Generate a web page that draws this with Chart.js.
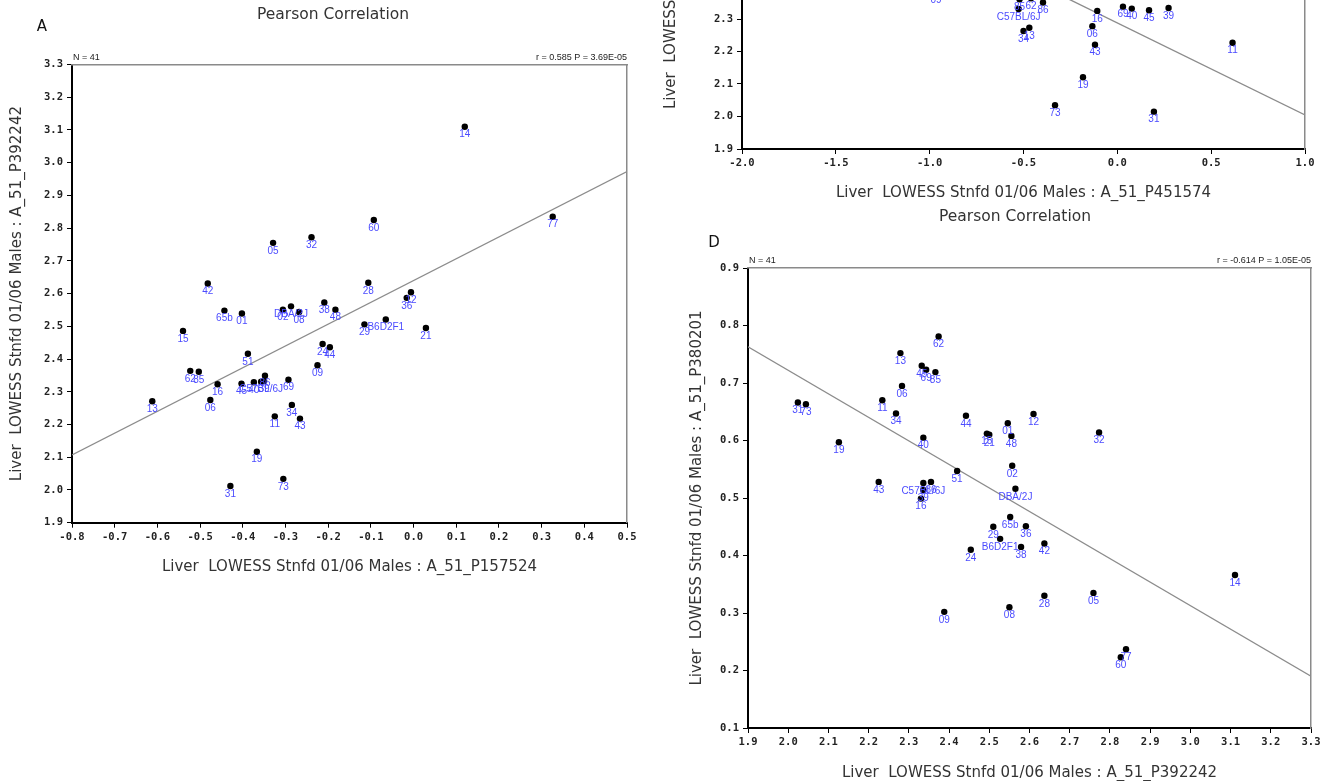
<!DOCTYPE html>
<html>
<head>
<meta charset="utf-8">
<script src="https://cdn.jsdelivr.net/npm/chart.js@4.4.1/dist/chart.umd.min.js"></script>
<style>
  html, body { margin: 0; padding: 0; background: #fff; }
  body { width: 1344px; height: 781px; overflow: hidden; position: relative; }
  canvas { position: absolute; }
</style>
</head>
<body>
<canvas id="panelA"></canvas>
<canvas id="panelC"></canvas>
<canvas id="panelD"></canvas>
<script>
// Panel A : P157524 (x) vs P392242 (y)
const aNames = ["13", "15", "62", "85", "42", "06", "16", "65b", "01", "45", "51", "40",
  "19", "C57BL/6J", "39", "86", "31", "05", "11", "02", "73", "DBA/2J", "69", "34", "08",
  "43", "32", "09", "24", "38", "44", "48", "29", "28", "60", "B6D2F1", "36", "12", "21", "14", "77"];
const aX = [-0.612, -0.540, -0.523, -0.503, -0.482, -0.476, -0.459, -0.443, -0.402, -0.403, -0.388, -0.374,
  -0.367, -0.357, -0.350, -0.348, -0.429, -0.329, -0.325, -0.306, -0.305, -0.287, -0.293, -0.285, -0.268,
  -0.266, -0.239, -0.225, -0.213, -0.209, -0.196, -0.183, -0.115, -0.106, -0.093, -0.065, -0.016, -0.006, 0.029, 0.120, 0.326];
const aY = [2.271, 2.486, 2.364, 2.361, 2.631, 2.275, 2.323, 2.548, 2.539, 2.325, 2.416, 2.329,
  2.117, 2.331, 2.333, 2.349, 2.012, 2.755, 2.225, 2.551, 2.034, 2.561, 2.337, 2.260, 2.544,
  2.218, 2.772, 2.381, 2.446, 2.573, 2.436, 2.551, 2.506, 2.633, 2.825, 2.521, 2.587, 2.604, 2.495, 3.110, 2.835];
const aFitX = [-0.8, 0.5];
const aFitY = [2.107, 2.973];

// Panel C (cropped, top right) : P451574 (x) vs P392242 (y)
const cNames = ["09", "85", "62", "86", "C57BL/6J", "34", "13", "16", "06", "43", "69", "40", "45", "39", "11", "19", "73", "31"];
const cX = [-0.966, -0.521, -0.460, -0.396, -0.526, -0.500, -0.469, -0.107, -0.133, -0.119, 0.030, 0.077, 0.169, 0.273, 0.614, -0.183, -0.332, 0.195];
const cY = [2.381, 2.361, 2.364, 2.351, 2.331, 2.263, 2.273, 2.325, 2.278, 2.221, 2.338, 2.332, 2.327, 2.334, 2.227, 2.121, 2.035, 2.015];
const cFitX = [-2.0, 1.0];
const cFitY = [2.854, 2.005];

// Panel D : P392242 (x) vs P380201 (y)
const dNames = ["62", "13", "45", "69", "85", "06", "11", "31", "73", "34", "44", "12", "01", "15", "21",
  "48", "40", "19", "02", "51", "43", "C57BL/6J", "86", "39", "16", "DBA/2J", "65b", "29", "36", "B6D2F1",
  "42", "38", "24", "09", "08", "28", "05", "77", "32", "14", "60"];
const dX = [2.374, 2.279, 2.332, 2.343, 2.366, 2.283, 2.234, 2.024, 2.044, 2.268, 2.442, 2.610, 2.546, 2.494, 2.500,
  2.555, 2.336, 2.126, 2.557, 2.420, 2.225, 2.336, 2.355, 2.336, 2.330, 2.565, 2.552, 2.510, 2.591, 2.527,
  2.637, 2.579, 2.454, 2.388, 2.550, 2.637, 2.759, 2.840, 2.773, 3.111, 2.827];
const dY = [0.781, 0.752, 0.730, 0.723, 0.719, 0.695, 0.670, 0.666, 0.663, 0.647, 0.643, 0.646, 0.630, 0.612, 0.610,
  0.608, 0.605, 0.597, 0.556, 0.547, 0.528, 0.526, 0.528, 0.514, 0.499, 0.516, 0.467, 0.450, 0.451, 0.429,
  0.421, 0.415, 0.410, 0.302, 0.310, 0.330, 0.335, 0.237, 0.614, 0.366, 0.223];
const dFitX = [1.9, 3.3];
const dFitY = [0.763, 0.190];

const mainTitleFont = { family: "DejaVu Sans", size: 15.5, weight: "normal" };
const axisTitleFont = { family: "DejaVu Sans", size: 15, weight: "normal" };
const tickFont = { family: "DejaVu Sans Mono", size: 10.5, weight: "bold" };

function toPoints(xs, ys) {
  return xs.map((x, i) => ({ x: x, y: ys[i] }));
}

function fmt() {
  return function (v) {
    if (Math.abs(v) < 1e-9) v = 0;
    return v.toFixed(1);
  };
}

// etiquetas de los puntos, N y r
const annotPlugin = {
  id: "annot",
  afterDatasetsDraw(chart, args, opts) {
    const ctx = chart.ctx;
    const area = chart.chartArea;
    ctx.save();
    const meta = chart.getDatasetMeta(0);
    ctx.fillStyle = "#4b4bff";
    ctx.font = '10px "Liberation Sans", Arial, sans-serif';
    ctx.textAlign = "center";
    ctx.textBaseline = "middle";
    meta.data.forEach((pt, i) => {
      ctx.fillText(opts.names[i], pt.x, pt.y + 8);
    });
    ctx.fillStyle = "#222";
    ctx.font = '9px "Liberation Sans Narrow", "Liberation Sans", sans-serif';
    ctx.textBaseline = "alphabetic";
    ctx.textAlign = "left";
    ctx.fillText("N = 41", area.left + 1, area.top - 5);
    ctx.textAlign = "right";
    ctx.fillText(opts.stat, area.right, area.top - 5);
    if (opts.letter) {
      ctx.font = '15px "DejaVu Sans", sans-serif';
      ctx.fillStyle = "#111";
      ctx.textAlign = "center";
      ctx.textBaseline = "middle";
      ctx.fillText(opts.letter, opts.letterX, opts.letterY);
    }
    ctx.restore();
  }
};

function makePanel(id, L, p) {
  const cv = document.getElementById(id);
  cv.width = L.w;
  cv.height = L.h;
  cv.style.left = L.left + "px";
  cv.style.top = L.top + "px";

  return new Chart(cv, {
    type: "scatter",
    data: {
      datasets: [
        {
          data: toPoints(p.x, p.y),
          pointRadius: 3.2,
          pointBackgroundColor: "#000",
          pointBorderWidth: 0
        },
        {
          data: toPoints(p.fitX, p.fitY),
          showLine: true,
          pointRadius: 0,
          borderColor: "#8c8c8c",
          borderWidth: 1.3,
          fill: false
        }
      ]
    },
    options: {
      responsive: false,
      animation: false,
      events: [],
      layout: { padding: 0 },
      plugins: {
        legend: { display: false },
        tooltip: { enabled: false },
        title: {
          display: true,
          text: "Pearson Correlation",
          color: "#333",
          font: mainTitleFont,
          padding: { top: L.titleTop, bottom: L.titleBottom }
        },
        annot: {
          names: p.names, stat: p.stat,
          letter: p.letter, letterX: L.letterX, letterY: L.letterY
        }
      },
      scales: {
        x: {
          type: "linear",
          position: "bottom",
          min: p.xMin, max: p.xMax,
          ticks: {
            stepSize: p.xStep, callback: fmt(), color: "#222", font: tickFont,
            padding: 3, maxRotation: 0, autoSkip: false
          },
          grid: { drawOnChartArea: false, tickLength: 5, color: "#000", lineWidth: 1 },
          border: { color: "#000", width: 2 },
          title: { display: true, text: p.xTitle, color: "#333", font: axisTitleFont, padding: { top: 0, bottom: 0 } },
          afterFit(s) { s.height = L.xAxisH; }
        },
        y: {
          type: "linear",
          position: "left",
          min: p.yMin, max: p.yMax,
          ticks: {
            stepSize: p.yStep, callback: fmt(), color: "#222", font: tickFont,
            padding: 4, autoSkip: false
          },
          grid: { drawOnChartArea: false, tickLength: 5, color: "#000", lineWidth: 1 },
          border: { color: "#000", width: 2 },
          title: { display: true, text: p.yTitle, color: "#333", font: axisTitleFont, padding: { top: L.yTitlePad, bottom: 0 } },
          afterFit(s) { s.width = L.yAxisW; }
        },
        x2: {
          type: "linear",
          position: "top",
          ticks: { display: false },
          grid: { display: false, drawTicks: false },
          border: { color: "#8a8a8a", width: 1.5 },
          afterFit(s) { s.height = 0; }
        },
        y2: {
          type: "linear",
          position: "right",
          ticks: { display: false },
          grid: { display: false, drawTicks: false },
          border: { color: "#8a8a8a", width: 1.5 },
          afterFit(s) { s.width = L.rightW; }
        }
      }
    },
    plugins: [annotPlugin]
  });
}

makePanel("panelA",
  { left: 0, top: 0, w: 666, h: 576, yAxisW: 72, rightW: 39, titleTop: 5.7, titleBottom: 40.2,
    xAxisH: 53.3, yTitlePad: 8, letterX: 42, letterY: 27 },
  { names: aNames, x: aX, y: aY, fitX: aFitX, fitY: aFitY,
    xMin: -0.8, xMax: 0.5, xStep: 0.1, yMin: 1.9, yMax: 3.3, yStep: 0.1,
    xTitle: "Liver  LOWESS Stnfd 01/06 Males : A_51_P157524",
    yTitle: "Liver  LOWESS Stnfd 01/06 Males : A_51_P392242",
    stat: "r = 0.585 P = 3.69E-05", letter: "A" });

makePanel("panelC",
  { left: 650, top: -374, w: 692, h: 576, yAxisW: 92, rightW: 37, titleTop: 3.7, titleBottom: 45.7,
    xAxisH: 53, yTitlePad: 12, letterX: 60, letterY: 30 },
  { names: cNames, x: cX, y: cY, fitX: cFitX, fitY: cFitY,
    xMin: -2.0, xMax: 1.0, xStep: 0.5, yMin: 1.9, yMax: 3.3, yStep: 0.1,
    xTitle: "Liver  LOWESS Stnfd 01/06 Males : A_51_P451574",
    yTitle: "Liver  LOWESS Stnfd 01/06 Males : A_51_P392242",
    stat: "", letter: "C" });

makePanel("panelD",
  { left: 682, top: 200, w: 666, h: 582, yAxisW: 66, rightW: 37, titleTop: 7.7, titleBottom: 41.7,
    xAxisH: 54, yTitlePad: 6, letterX: 32, letterY: 43 },
  { names: dNames, x: dX, y: dY, fitX: dFitX, fitY: dFitY,
    xMin: 1.9, xMax: 3.3, xStep: 0.1, yMin: 0.1, yMax: 0.9, yStep: 0.1,
    xTitle: "Liver  LOWESS Stnfd 01/06 Males : A_51_P392242",
    yTitle: "Liver  LOWESS Stnfd 01/06 Males : A_51_P380201",
    stat: "r = -0.614 P = 1.05E-05", letter: "D" });
</script>
</body>
</html>
